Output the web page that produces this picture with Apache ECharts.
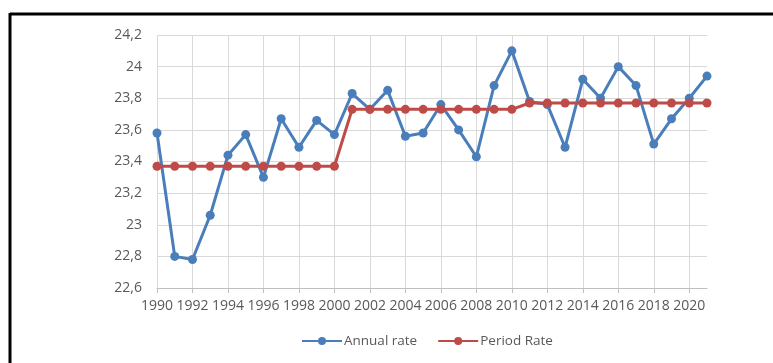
<!DOCTYPE html>
<html>
<head>
<meta charset="utf-8">
<script src="https://cdn.jsdelivr.net/npm/echarts@6/dist/echarts.min.js"></script>
<style>
  html, body { margin: 0; padding: 0; background: #fff; }
  #chart { width: 773px; height: 363px; }
</style>
</head>
<body>
<div id="chart"></div>
<script>
// years on the x axis
const years = [];
for (let y = 1990; y <= 2021; y++) years.push(String(y));

// annual rate
const annualRate = [
  23.58, 22.80, 22.78, 23.06, 23.44, 23.57, 23.30, 23.67, 23.49, 23.66,
  23.57, 23.83, 23.73, 23.85, 23.56, 23.58, 23.76, 23.60, 23.43, 23.88,
  24.10, 23.78, 23.76, 23.49, 23.92, 23.80, 24.00, 23.88, 23.51, 23.67,
  23.80, 23.94
];

// period rate (three flat periods)
const periodRate = [
  23.37, 23.37, 23.37, 23.37, 23.37, 23.37, 23.37, 23.37, 23.37, 23.37,
  23.37, 23.73, 23.73, 23.73, 23.73, 23.73, 23.73, 23.73, 23.73, 23.73,
  23.73, 23.77, 23.77, 23.77, 23.77, 23.77, 23.77, 23.77, 23.77, 23.77,
  23.77, 23.77
];

const chart = echarts.init(document.getElementById('chart'));

const font = 'Open Sans';
const grey = '#595959';

chart.setOption({
  animation: false,
  backgroundColor: '#fff',
  textStyle: { fontFamily: font },
  grid: { left: 157, right: 66, top: 35, bottom: 75 },
  legend: {
    left: 296,
    top: 329,
    itemWidth: 40,
    itemHeight: 10,
    itemGap: 20,
    textStyle: { color: grey, fontSize: 13.5, fontFamily: font, padding: [0, 0, 0, -3] },
    data: ['Annual rate', 'Period Rate']
  },
  xAxis: {
    type: 'category',
    data: years,
    boundaryGap: false,
    axisLine: { lineStyle: { color: '#bfbfbf' } },
    axisTick: { interval: 1, length: 5, lineStyle: { color: '#bfbfbf' } },
    axisLabel: { interval: 1, color: grey, fontSize: 14, margin: 11 },
    splitLine: { show: true, interval: 1, lineStyle: { color: '#d9d9d9' } }
  },
  yAxis: {
    type: 'value',
    min: 22.6,
    max: 24.2,
    interval: 0.2,
    axisLine: { show: false },
    axisTick: { show: false },
    axisLabel: {
      color: grey,
      fontSize: 14,
      margin: 15,
      formatter: function (v) {
        return String(+v.toFixed(1)).replace('.', ',');
      }
    },
    splitLine: { lineStyle: { color: '#d9d9d9' } }
  },
  series: [
    {
      name: 'Annual rate',
      type: 'line',
      data: annualRate,
      symbol: 'circle',
      symbolSize: 9,
      itemStyle: { color: '#4a7ebb' },
      lineStyle: { width: 3, color: '#4a7ebb' },
      z: 2
    },
    {
      name: 'Period Rate',
      type: 'line',
      data: periodRate,
      symbol: 'circle',
      symbolSize: 9,
      itemStyle: { color: '#be4b48' },
      lineStyle: { width: 3, color: '#be4b48' },
      z: 3
    }
  ],
  // black frame at the top and left of the picture
  graphic: [
    { type: 'line', shape: { x1: 10, y1: 14, x2: 773, y2: 14 }, style: { stroke: '#000', lineWidth: 3 } },
    { type: 'line', shape: { x1: 10, y1: 13, x2: 10, y2: 363 }, style: { stroke: '#000', lineWidth: 3 } }
  ]
});
</script>
</body>
</html>
